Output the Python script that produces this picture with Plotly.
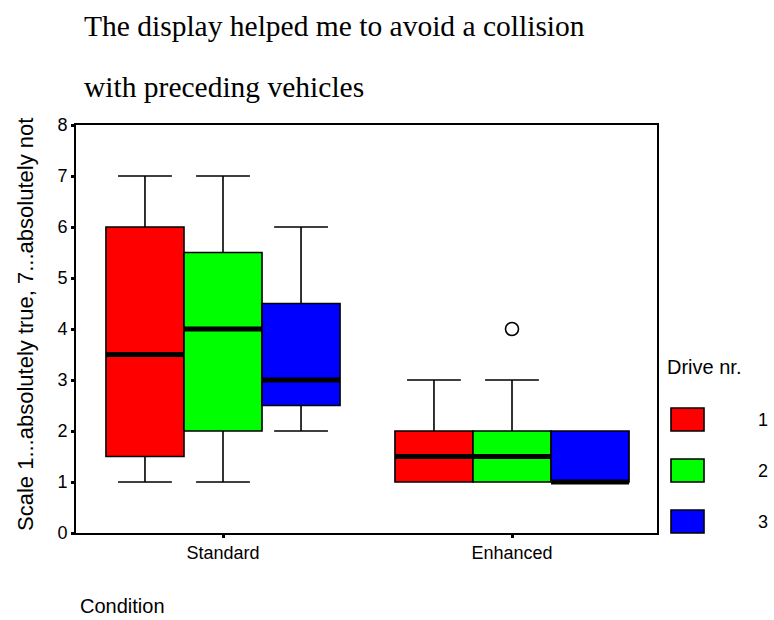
import plotly.graph_objects as go

W, H = 774, 620
L, R, T, B = 76, 657, 125, 533

conditions = ["Standard", "Enhanced"]
drives = ["1", "2", "3"]
colors = ["#ff0000", "#00ff00", "#0000ff"]

# per drive: [Standard, Enhanced]
lower = {"1": [1, 1], "2": [1, 1], "3": [2, 1]}
q1 = {"1": [1.5, 1], "2": [2, 1], "3": [2.5, 1]}
median = {"1": [3.5, 1.5], "2": [4, 1.5], "3": [3, 1]}
q3 = {"1": [6, 2], "2": [5.5, 2], "3": [4.5, 2]}
upper = {"1": [7, 3], "2": [7, 3], "3": [6, 2]}
outliers = {"2": [(1, 4)]}  # (condition index, value)

group_width = 0.81
box_w = group_width / len(drives)


def px_x(p):
    return (p - L) / (R - L)


def px_y(p):
    return (B - p) / (B - T)


fig = go.Figure()

for i, (d, c) in enumerate(zip(drives, colors)):
    xs = [k + (i - 1) * box_w for k in range(len(conditions))]
    fig.add_trace(go.Box(
        x=xs, q1=q1[d], median=median[d], q3=q3[d],
        lowerfence=lower[d], upperfence=upper[d],
        width=box_w, whiskerwidth=0.69,
        fillcolor=c, line=dict(color="black", width=1.6),
        boxpoints=False, showlegend=False, hoverinfo="skip",
    ))
    # thick median bars
    for x, m in zip(xs, median[d]):
        fig.add_trace(go.Scatter(
            x=[x - box_w / 2, x + box_w / 2], y=[m, m], mode="lines",
            line=dict(color="black", width=5), showlegend=False, hoverinfo="skip",
        ))
    for k, v in outliers.get(d, []):
        fig.add_trace(go.Scatter(
            x=[xs[k]], y=[v], mode="markers",
            marker=dict(symbol="circle-open", size=13, color="black", line=dict(width=1.6)),
            showlegend=False, hoverinfo="skip",
        ))

# category axis mapping: Standard at px 223, Enhanced at px 512
unit = 512 - 223
x_range = [(L - 223) / unit, (R - 223) / unit]

axis_font = dict(family="Liberation Sans, Arial", size=18, color="black")
fig.update_xaxes(
    range=x_range, tickvals=[0, 1], ticktext=conditions,
    showline=True, mirror=True, linecolor="black", linewidth=1.6,
    ticks="outside", ticklen=3, tickwidth=3, tickcolor="black",
    showgrid=False, zeroline=False, tickfont=axis_font,
)
fig.update_yaxes(
    range=[0, 8], tickvals=list(range(9)),
    showline=True, mirror=True, linecolor="black", linewidth=1.6,
    ticks="outside", ticklen=3, tickwidth=3, tickcolor="black",
    showgrid=False, zeroline=False, tickfont=axis_font,
)

serif = dict(family="Liberation Serif, Times New Roman", size=29.5, color="black")
ann = [
    dict(text="The display helped me to avoid a collision", x=px_x(82), y=px_y(26),
         xanchor="left", yanchor="middle", font=serif),
    dict(text="with preceding vehicles", x=px_x(82), y=px_y(87),
         xanchor="left", yanchor="middle", font=serif),
    dict(text="Scale 1...absolutely true, 7...absolutely not", x=px_x(25), y=px_y(325),
         xanchor="center", yanchor="middle", textangle=-90,
         font=dict(family="Liberation Sans, Arial", size=22, color="black")),
    dict(text="Condition", x=px_x(78), y=px_y(606),
         xanchor="left", yanchor="middle",
         font=dict(family="Liberation Sans, Arial", size=20, color="black")),
    dict(text="Drive nr.", x=px_x(665), y=px_y(367),
         xanchor="left", yanchor="middle",
         font=dict(family="Liberation Sans, Arial", size=20, color="black")),
]

shapes = []
legend_mid = [419.5, 470.5, 521.5]
for d, c, ym in zip(drives, colors, legend_mid):
    shapes.append(dict(type="rect", xref="paper", yref="paper",
                       x0=px_x(671), x1=px_x(704), y0=px_y(ym + 11.5), y1=px_y(ym - 11.5),
                       fillcolor=c, line=dict(color="black", width=1.6)))
    ann.append(dict(text=d, x=px_x(763), y=px_y(ym), xanchor="center", yanchor="middle",
                    font=dict(family="Liberation Sans, Arial", size=18, color="black")))

for a in ann:
    a.update(xref="paper", yref="paper", showarrow=False)

fig.update_layout(
    width=W, height=H,
    margin=dict(l=L, r=W - R, t=T, b=H - B),
    paper_bgcolor="white", plot_bgcolor="white",
    annotations=ann, shapes=shapes,
)

fig.write_html("out.html", config={"displayModeBar": False},
               post_script="document.body.style.margin='0px';")
